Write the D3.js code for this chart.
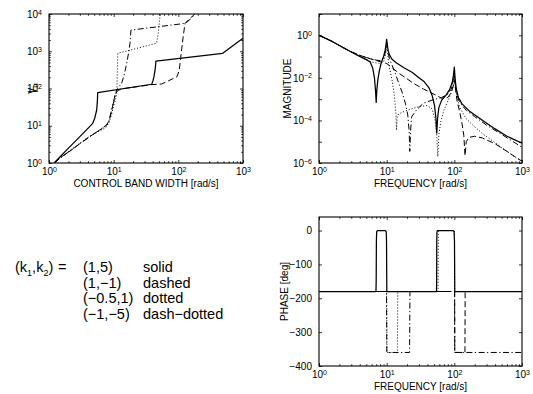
<!DOCTYPE html>
<html><head><meta charset="utf-8">
<script src="https://cdn.jsdelivr.net/npm/d3@7"></script>
<style>
body{margin:0;background:#fff}
svg text{font-family:"Liberation Sans",Arial,Helvetica,sans-serif;fill:#000}
</style>
</head><body>
<svg id="c" width="533" height="394"></svg>
<script>
// ---------------- data ----------------
const seriesStyles = ["solid","dashed","dotted","dash-dotted"];
const kPairs = ["(1,5)","(1,\u22121)","(\u22120.5,1)","(\u22121,\u22125)"];
const xDecades = [1,10,100,1000];

// top-left: gamma_u vs control band width
const bwSolid = [[1.2,1],[2,2.5],[3,5.1],[4,8.5],[4.74,11.6],[5.1,16],[5.46,26.5],[5.6,45],[5.66,77],[38.7,130],[40.5,160],[42,208],[43.5,300],[44.5,420],[45,545],[485,880],[1000,2230]];
const bwDashed = [[1.2,1],[1.6,1.5],[2.2,2.2],[3,3.3],[4,4.7],[5.1,6.3],[6.5,8.3],[7.8,10.5],[8.5,14],[9.3,25],[10,45],[10.5,67],[11.3,85],[13,97],[38.7,127],[55,132],[70,160],[95,207],[103,300],[108,600],[113,1200],[119,2500],[124,4200],[127,5600],[150,7500],[180,10000]];
const bwDotted = [[1.2,1],[1.6,1.5],[2.2,2.3],[3,3.4],[4,4.9],[5.8,6.9],[7.5,8.8],[8.5,12],[9.3,20],[9.9,32],[10.8,55],[11.2,80],[11.4,300],[11.6,880],[46,1640],[49,3000],[52,8700],[54,10000]];
const bwDashDot = [[1.2,1],[1.6,1.5],[2.2,2.2],[3,3.3],[4,4.7],[5.1,6.3],[6.5,8.3],[7.8,10.5],[8.5,14],[9.3,26],[10.2,50],[11.1,91],[12.2,115],[13.3,138],[14.5,230],[15.9,470],[17,900],[17.9,1640],[18.5,3700],[127,5600],[150,7000],[181,10000]];
const gammaTicks = [1,10,100,1000,10000];

// top-right: magnitude vs frequency
const magSolid = [[1,1.0],[1.5,0.55],[2,0.33],[3,0.163],[4,0.102],[5,0.072],[5.7,0.055],[6.2,0.03],[6.6,0.01],[6.85,0.0025],[7.0,0.0007],[7.15,0.0025],[7.4,0.008],[7.8,0.022],[8.3,0.05],[9,0.1],[9.5,0.2],[9.8,0.38],[10,0.65],[10.2,0.38],[10.5,0.2],[11,0.12],[12,0.075],[14,0.05],[18,0.03],[24,0.018],[29,0.011],[36,0.0065],[42,0.0035],[47,0.0015],[51,0.0005],[53.5,0.00012],[55,0.000025],[56.5,0.00012],[59,0.0004],[65,0.0009],[75,0.0015],[85,0.0028],[93,0.006],[97,0.013],[100,0.032],[103,0.008],[107,0.003],[115,0.0012],[130,0.0006],[170,0.00026],[250,0.00011],[400,0.00004],[600,0.000018],[1000,0.0000085]];
const magDashed = [[1,1.0],[1.5,0.55],[2,0.33],[3,0.165],[4,0.115],[5,0.09],[6,0.075],[7,0.065],[8,0.058],[9,0.052],[10,0.047],[11,0.038],[12,0.03],[15,0.017],[20,0.009],[25,0.0055],[35,0.003],[50,0.0017],[65,0.0011],[80,0.0012],[90,0.002],[96,0.0038],[100,0.008],[104,0.003],[110,0.0008],[120,0.00025],[130,0.00007],[138,0.00002],[144,0.0000022],[150,0.00001],[165,0.000016],[200,0.000018],[260,0.000015],[400,0.000008],[600,0.0000035],[1000,0.0000012]];
const magDotted = [[1,1.0],[1.5,0.55],[2,0.33],[3,0.163],[4,0.1],[5,0.07],[6,0.056],[7,0.05],[8,0.048],[9,0.055],[9.5,0.1],[9.8,0.18],[10,0.33],[10.2,0.18],[10.5,0.08],[11,0.03],[12,0.008],[13,0.0015],[13.7,0.0002],[14,0.000035],[14.3,0.00015],[15,0.0002],[20,0.0003],[30,0.00045],[40,0.0005],[47,0.00035],[52,0.0001],[55,0.00002],[57,0.000002],[59,0.00002],[63,0.00009],[70,0.0003],[80,0.0008],[90,0.002],[96,0.005],[100,0.02],[103,0.006],[108,0.0015],[120,0.0004],[150,0.00012],[200,0.00005],[270,0.000022],[400,0.000009],[600,0.0000035],[835,0.0000017],[1000,0.0000013]];
const magDashDot = [[1,1.0],[1.5,0.55],[2,0.33],[3,0.165],[4,0.115],[5,0.09],[6,0.077],[7,0.068],[8,0.065],[8.7,0.075],[9.2,0.1],[9.6,0.18],[9.85,0.3],[10,0.45],[10.15,0.3],[10.5,0.15],[11,0.08],[12,0.04],[13.5,0.015],[15,0.006],[17,0.002],[19,0.0006],[20.5,0.00018],[21.5,0.00003],[22,0.0000035],[22.5,0.00003],[23.4,0.00015],[27.6,0.00031],[35,0.00065],[49,0.00094],[65,0.0012],[80,0.0017],[90,0.003],[96,0.006],[100,0.012],[104,0.004],[110,0.0015],[120,0.0007],[150,0.0003],[200,0.00015],[300,0.00006],[500,0.000022],[1000,0.0000055]];
const magTicks = [1e-6,1e-5,1e-4,1e-3,1e-2,1e-1,1,10];
const magLabelTicks = [1e-6,1e-4,1e-2,1];

// bottom-right: phase vs frequency
const phSolid = [[1,-180],[6.95,-180],[7.0,-150],[7.05,-30],[7.12,-4],[7.3,0],[9.6,0],[9.85,-4],[9.95,-30],[10.05,-180],[54.5,-180],[54.8,-150],[55.0,-30],[55.4,-4],[56.3,0],[97,0],[99,-4],[100.5,-30],[101.5,-180],[1000,-180]];
const phDashed = [[1,-180],[101,-180],[101.5,-360],[143.5,-360],[144.5,-180],[1000,-180]];
const phDotted = [[1,-180],[10,-180],[10.1,-360],[14.4,-360],[14.6,-180],[57.5,-180],[58,0],[100.5,0],[101,-180],[1000,-180]];
const phDashDot = [[1,-180],[9.95,-180],[10.05,-360],[21.8,-360],[22.1,-180],[101,-180],[101.5,-360],[1000,-360]];
const phaseTicks = [-400,-300,-200,-100,0];

// ---------------- drawing ----------------
const svg = d3.select("#c");
const dashes = {"solid":null,"dashed":"6,3","dotted":"1,2","dash-dotted":"6,2.5,1.2,2.5"};
const widths = {"solid":1.25,"dashed":1,"dotted":1,"dash-dotted":1};

function minorLog(domain){
  const out=[];
  const a=Math.round(Math.log10(domain[0])), b=Math.round(Math.log10(domain[1]));
  for(let e=a;e<b;e++) for(let m=2;m<=9;m++) out.push(m*Math.pow(10,e));
  return out;
}
function expLabel(sel){
  sel.selectAll(".tick text").each(function(d){
    const t=d3.select(this);
    t.text("10");
    t.append("tspan").attr("dy","-0.45em").attr("font-size","7px").text(String(Math.round(Math.log10(d))).replace("-","\u2212"));
  });
}

let clipId=0;
function panel(o){
  const {L,R,T,B,x,y,series,yMajor,yMinor,yLabelTicks,yFmt,xlabel} = o;
  const g = svg.append("g");
  const id="clip"+(clipId++);
  svg.append("clipPath").attr("id",id).append("rect").attr("x",L).attr("y",T).attr("width",R-L).attr("height",B-T);
  const lg = g.append("g").attr("clip-path",`url(#${id})`);
  const line = d3.line().x(d=>x(d[0])).y(d=>y(d[1]));
  series.forEach(s=>{
    lg.append("path").datum(s.data).attr("d",line).attr("fill","none").attr("stroke","#000")
      .attr("stroke-width",widths[s.style]).attr("stroke-dasharray",dashes[s.style]).attr("stroke-linejoin","round");
  });
  const xb = g.append("g").attr("transform",`translate(0,${B})`)
    .call(d3.axisBottom(x).tickValues(xDecades).tickSizeInner(-3).tickSizeOuter(0).tickPadding(5))
    .attr("font-size","10px").attr("font-family",null);
  expLabel(xb);
  g.append("g").attr("transform",`translate(0,${B})`).call(d3.axisBottom(x).tickValues(minorLog(x.domain())).tickSizeInner(-1.8).tickSizeOuter(0).tickFormat(""));
  g.append("g").attr("transform",`translate(0,${T})`).call(d3.axisTop(x).tickValues(xDecades).tickSizeInner(-3).tickSizeOuter(0).tickFormat(""));
  g.append("g").attr("transform",`translate(0,${T})`).call(d3.axisTop(x).tickValues(minorLog(x.domain())).tickSizeInner(-1.8).tickSizeOuter(0).tickFormat(""));
  const yl = g.append("g").attr("transform",`translate(${L},0)`)
    .call(d3.axisLeft(y).tickValues(yMajor).tickSizeInner(-3).tickSizeOuter(0).tickPadding(7).tickFormat(yFmt))
    .attr("font-size","10px").attr("font-family",null);
  if(yLabelTicks){
    yl.selectAll(".tick text").each(function(d){ if(yLabelTicks.indexOf(d)<0) d3.select(this).remove(); });
    yl.selectAll(".tick text").each(function(d){
      const t=d3.select(this); t.text("10");
      t.append("tspan").attr("dy","-0.45em").attr("font-size","7px").text(String(Math.round(Math.log10(d))).replace("-","\u2212"));
    });
  }
  g.append("g").attr("transform",`translate(${R},0)`).call(d3.axisRight(y).tickValues(yMajor).tickSizeInner(-3).tickSizeOuter(0).tickFormat(""));
  if(yMinor){
    g.append("g").attr("transform",`translate(${L},0)`).call(d3.axisLeft(y).tickValues(yMinor).tickSizeInner(-1.8).tickSizeOuter(0).tickFormat(""));
    g.append("g").attr("transform",`translate(${R},0)`).call(d3.axisRight(y).tickValues(yMinor).tickSizeInner(-1.8).tickSizeOuter(0).tickFormat(""));
  }
  g.selectAll(".domain").remove();
  g.selectAll(".tick line").attr("stroke","#000").attr("stroke-width",0.8);
  g.append("rect").attr("x",L).attr("y",T).attr("width",R-L).attr("height",B-T).attr("fill","none").attr("stroke","#000").attr("stroke-width",1.1);
  g.append("text").attr("x",(L+R)/2).attr("y",B+24).attr("text-anchor","middle").attr("font-size","10px").text(xlabel);
  return g;
}

// Panel 1
{
  const L=49,R=243,T=14,B=163;
  const x=d3.scaleLog().domain([1,1000]).range([L,R]);
  const y=d3.scaleLog().domain([1,10000]).range([B,T]);
  const g=panel({L,R,T,B,x,y,
    series:[{data:bwSolid,style:"solid"},{data:bwDashed,style:"dashed"},{data:bwDotted,style:"dotted"},{data:bwDashDot,style:"dash-dotted"}],
    yMajor:gammaTicks, yMinor:minorLog([1,10000]), yLabelTicks:gammaTicks, yFmt:null,
    xlabel:"CONTROL BAND WIDTH [rad/s]"});
  const t=g.append("text").attr("transform",`translate(35,${(T+B)/2}) rotate(-90)`).attr("text-anchor","middle").attr("font-size","12px");
  t.append("tspan").text("\u03B3");
  t.append("tspan").attr("font-size","8px").attr("dy","3").text("u");
}
// Panel 2
{
  const L=319,R=522,T=14,B=163;
  const x=d3.scaleLog().domain([1,1000]).range([L,R]);
  const y=d3.scaleLog().domain([1e-6,10]).range([B,T]);
  const g=panel({L,R,T,B,x,y,
    series:[{data:magSolid,style:"solid"},{data:magDashed,style:"dashed"},{data:magDotted,style:"dotted"},{data:magDashDot,style:"dash-dotted"}],
    yMajor:magTicks, yMinor:null, yLabelTicks:magLabelTicks, yFmt:null,
    xlabel:"FREQUENCY [rad/s]"});
  g.append("text").attr("transform",`translate(291,${(T+B)/2}) rotate(-90)`).attr("text-anchor","middle").attr("font-size","10px").text("MAGNITUDE");
}
// Panel 3
{
  const L=319,R=522,T=217,B=366;
  const x=d3.scaleLog().domain([1,1000]).range([L,R]);
  const y=d3.scaleLinear().domain([-400,40]).range([B,T]);
  const g=panel({L,R,T,B,x,y,
    series:[{data:phSolid,style:"solid"},{data:phDashed,style:"dashed"},{data:phDotted,style:"dotted"},{data:phDashDot,style:"dash-dotted"}],
    yMajor:phaseTicks, yMinor:null, yLabelTicks:null, yFmt:d=>String(d).replace("-","\u2212"),
    xlabel:"FREQUENCY [rad/s]"});
  g.append("text").attr("transform",`translate(288,${(T+B)/2}) rotate(-90)`).attr("text-anchor","middle").attr("font-size","10px").text("PHASE [deg]");
}

// Legend text block
{
  const lg=svg.append("g").attr("font-size","14.5px");
  const y0=272, dy=15.5;
  const t=lg.append("text").attr("x",15).attr("y",y0);
  t.append("tspan").text("(k");
  t.append("tspan").attr("font-size","9px").attr("dy",4).text("1");
  t.append("tspan").attr("dy",-4).text(",k");
  t.append("tspan").attr("font-size","9px").attr("dy",4).text("2");
  t.append("tspan").attr("dy",-4).text(")");
  lg.append("text").attr("x",58).attr("y",y0).text("=");
  kPairs.forEach((k,i)=>{
    lg.append("text").attr("x",83).attr("y",y0+i*dy).text(k);
    lg.append("text").attr("x",143).attr("y",y0+i*dy).text(seriesStyles[i].replace("-","\u2212"));
  });
}
</script>
</body></html>
